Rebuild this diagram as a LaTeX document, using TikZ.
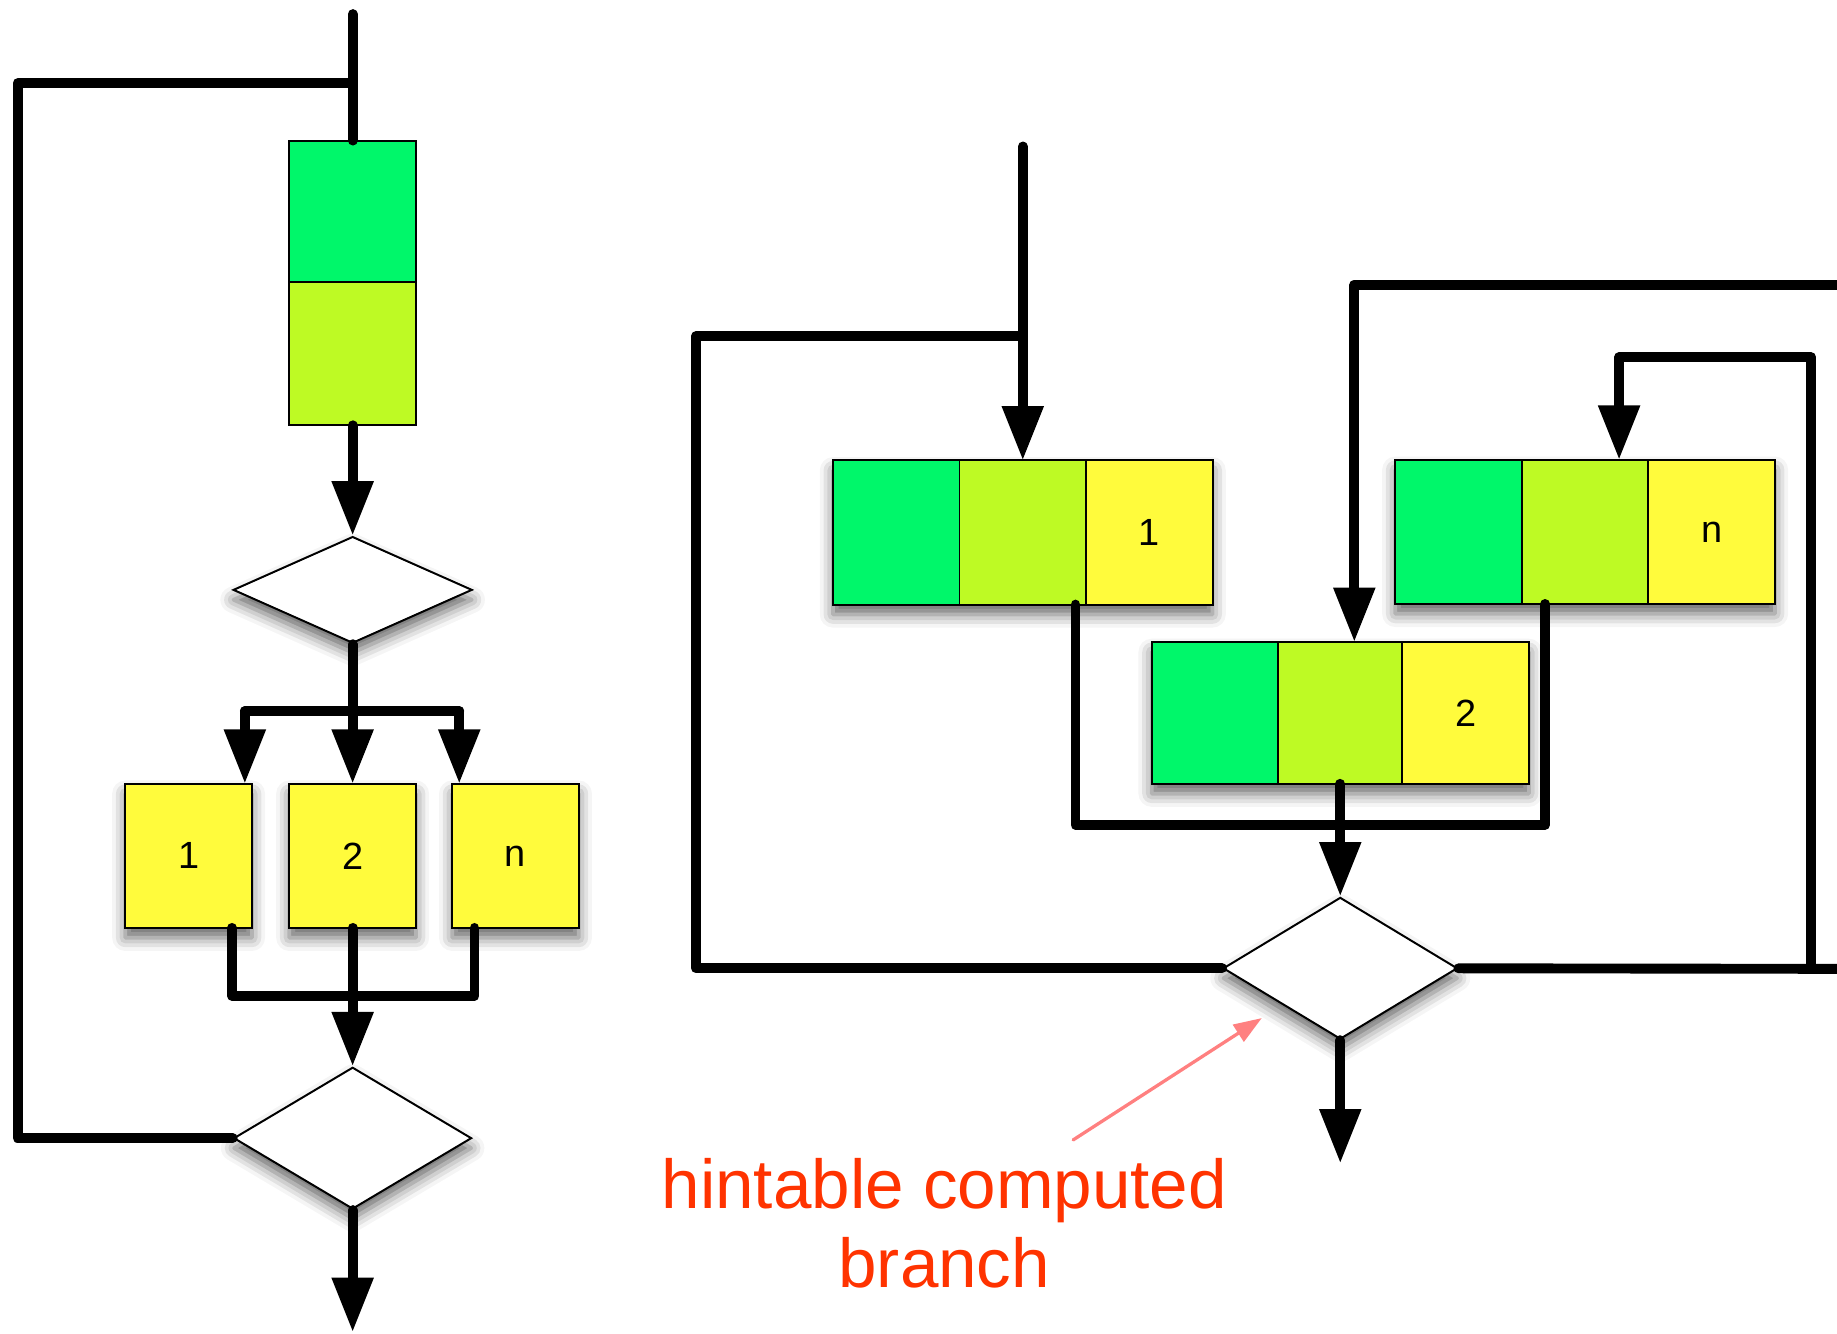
\documentclass[tikz,border=0pt]{standalone}
\usepackage{fontspec}
\setmainfont{Liberation Sans}
\usetikzlibrary{arrows.meta,shapes.geometric,shadows.blur,backgrounds}
\definecolor{cgreen}{RGB}{0,247,106}
\definecolor{clime}{RGB}{190,250,36}
\definecolor{cyellow}{RGB}{255,251,60}
\definecolor{hintred}{RGB}{255,51,0}
\definecolor{hintpink}{RGB}{255,128,128}
\tikzset{
  flow/.style={line width=6pt, line join=round, line cap=round},
  arr/.style={flow, -{Triangle[length=33pt,width=24pt]}},
  softshadow/.style={blur shadow={shadow xshift=0pt, shadow yshift=-6pt,
      shadow blur radius=8pt, shadow opacity=60}},
  cell/.style={draw=black, line width=1.2pt, inner sep=0pt, outer sep=0pt,
      minimum width=2.7cm, font=\fontsize{23}{23}\selectfont},
  tallcell/.style={cell, minimum height=3.075cm},
  lowcell/.style={cell, minimum height=3.025cm},
  decision/.style={diamond, draw=black, line width=1.2pt, fill=white,
      inner sep=0pt, softshadow},
  note/.style={text=hintred, align=center, inner sep=0pt,
      font=\fontsize{42}{48}\selectfont},
  pointer/.style={draw=hintpink, line width=2pt, line cap=round,
      -{Triangle[length=17pt,width=12pt]}}
}
\begin{document}
\begin{tikzpicture}[x=0.025cm, y=-0.025cm]
\useasboundingbox (0,0) rectangle (1568,1138);

% ---------- sequential form ----------
\node[cell, fill=cgreen, minimum height=3.025cm] (ga) at (301,180.5) {};
\node[cell, fill=clime,  minimum height=3.05cm]  (la) at (301,302) {};
\node[decision, minimum width=5.1cm, minimum height=2.275cm] (d1) at (301,503.5) {};
\node[tallcell, fill=cyellow, softshadow] (y1) at (161,730.5) {1};
\node[tallcell, fill=cyellow, softshadow] (y2) at (301,730.5) {2};
\node[tallcell, fill=cyellow, softshadow] (yn) at (440,730.5) {n};
\node[decision, minimum width=5.075cm, minimum height=3.025cm] (d2) at (301,971.5) {};

\begin{scope}[on background layer]
  \path[fill=white, softshadow] (ga.north west) rectangle (la.south east);
\end{scope}

\coordinate (top1) at (301,12);
\coordinate (lc) at (15,71);
\coordinate (fork) at (301,607);
\coordinate (f1) at (209,607);
\coordinate (fn) at (392,607);
\coordinate (m1) at (198,850);
\coordinate (mn) at (405,850);
\coordinate (out1) at (301,1137);

\draw[flow] (top1) -- (ga.north);
\draw[flow] (d2.west) -| (lc) -- (top1 |- lc);
\draw[arr] (la.south) -- (d1.north);
\draw[flow] (d1.south) -- (fork);
\draw[flow] (f1) -- (fn);
\draw[arr] (f1) -- (f1 |- y1.north);
\draw[arr] (fork) -- (y2.north);
\draw[arr] (fn) -- (fn |- yn.north);
\draw[flow] (m1 |- y1.south) -- (m1) -- (mn) -- (mn |- yn.south);
\draw[arr] (y2.south) -- (d2.north);
\draw[arr] (d2.south) -- (out1);

% ---------- threaded form ----------
\node[tallcell, fill=cgreen]  (a1) at (765,454.5) {};
\node[tallcell, fill=clime]   (b1) at (873,454.5) {};
\node[tallcell, fill=cyellow] (c1) at (981,454.5) {1};
\node[tallcell, fill=cgreen]  (an) at (1245,454) {};
\node[tallcell, fill=clime]   (bn) at (1353,454) {};
\node[tallcell, fill=cyellow] (cn) at (1461,454) {n};
\node[lowcell, fill=cgreen]   (a2) at (1037,608.5) {};
\node[lowcell, fill=clime]    (b2) at (1145,608.5) {};
\node[lowcell, fill=cyellow]  (c2) at (1251,608.5) {2};
\node[decision, minimum width=5cm, minimum height=3.025cm] (d3) at (1144,826.5) {};

\begin{scope}[on background layer]
  \path[fill=white, softshadow] (a1.north west) rectangle (c1.south east);
  \path[fill=white, softshadow] (an.north west) rectangle (cn.south east);
  \path[fill=white, softshadow] (a2.north west) rectangle (c2.south east);
\end{scope}

\coordinate (in2) at (873,125);
\coordinate (lc2) at (594,287);
\coordinate (j1) at (918,704);
\coordinate (jn) at (1319,704);
\coordinate (rc) at (1546,305);
\coordinate (nin) at (1382,305);
\coordinate (redge) at (1580,827);
\coordinate (tl) at (1580,243);
\coordinate (tin) at (1156,243);
\coordinate (out2) at (1144,993);

\draw[arr] (in2) -- (b1.north);
\draw[flow] (d3.west) -| (lc2) -- (in2 |- lc2);
\draw[flow] (j1 |- b1.south) -- (j1) -- (jn) -- (jn |- bn.south);
\draw[arr] (d3.north |- b2.south) -- (d3.north);
\draw[flow] (d3.east) -- (redge);
\draw[arr] (rc |- d3.east) -- (rc) -- (nin) -- (nin |- bn.north);
\draw[arr] (tl) -- (tin) -- (tin |- b2.north);
\draw[arr] (d3.south) -- (out2);

% ---------- annotation ----------
\node[note] (lbl) at (806,1044) {hintable computed\\branch};
\coordinate (ptail) at (916,973);
\coordinate (ptip) at (1077,869);
\draw[pointer] (ptail) -- (ptip);
\end{tikzpicture}
\end{document}
